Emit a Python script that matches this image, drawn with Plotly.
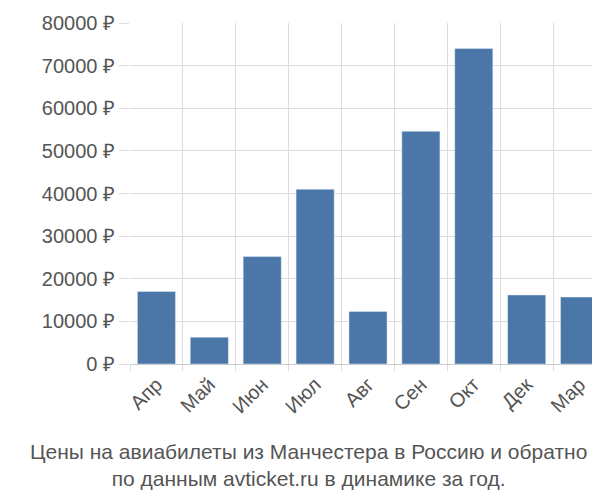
import plotly.graph_objects as go

months = ["Апр", "Май", "Июн", "Июл", "Авг", "Сен", "Окт", "Дек", "Мар"]
prices = [17000, 6300, 25200, 41000, 12300, 54600, 74000, 16200, 15700]
yticks = [0, 10000, 20000, 30000, 40000, 50000, 60000, 70000, 80000]
ylabels = [f"{v} ₽" for v in yticks]

fig = go.Figure(go.Bar(x=months, y=prices, marker_color="#4a76a8", width=0.72))
fig.update_layout(
    width=600, height=500, plot_bgcolor="white", paper_bgcolor="white",
    margin=dict(l=122, r=2, t=15, b=144), showlegend=False,
    font=dict(family="Liberation Sans, Arial", color="#555", size=20),
    xaxis=dict(tickson="boundaries", showgrid=True, gridcolor="#ddd", tickangle=-45,
               ticks="outside", ticklen=6, tickcolor="#ddd", linecolor="#ccc",
               automargin=False, tickfont=dict(size=20, color="#555")),
    yaxis=dict(range=[0, 80000], tickvals=yticks, ticktext=ylabels, gridcolor="#ddd",
               ticks="outside", ticklen=10, tickcolor="#ddd", zeroline=False,
               automargin=False, tickfont=dict(size=20, color="#555")),
    annotations=[dict(text="Цены на авиабилеты из Манчестера в Россию и обратно<br>по данным avticket.ru в динамике за год.",
                      xref="paper", yref="paper", x=0.374, y=0, yshift=-74, yanchor="top",
                      showarrow=False, font=dict(size=21, color="#555"), xanchor="center")],
)
fig.write_html("out.html")
